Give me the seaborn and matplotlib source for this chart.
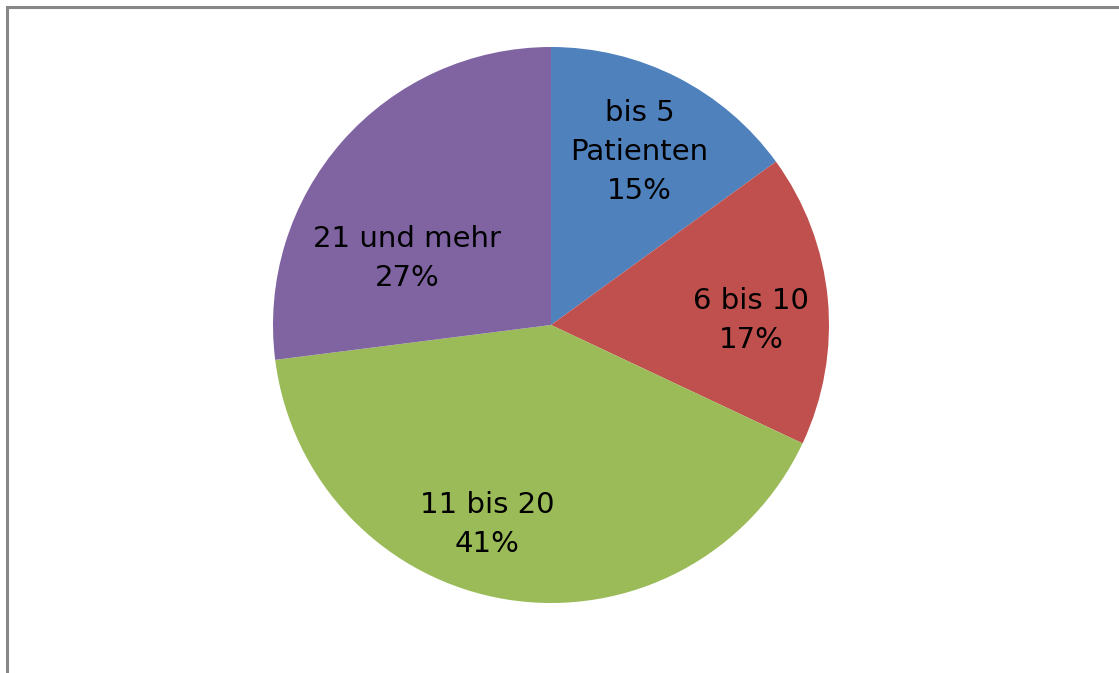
import numpy as np
import matplotlib
matplotlib.use("Agg")
import matplotlib.pyplot as plt
import seaborn as sns
from matplotlib.patches import Rectangle

# Data
categories = ["bis 5\nPatienten", "6 bis 10", "11 bis 20", "21 und mehr"]
shares = [15, 17, 41, 27]
colors = ["#4F81BD", "#C0504D", "#9BBB59", "#8064A2"]

# label placement (fraction of radius, angle nudge in degrees), Excel best-fit look
label_radius = [0.70, 0.72, 0.755, 0.57]
label_nudge = [0, -4, -8.7, 16.4]

sns.set_style("white")
plt.rcParams['font.family'] = ['DejaVu Sans']

W, H = 1119, 673
fig = plt.figure(figsize=(W / 100, H / 100), dpi=100)

# chart border (continues past right/bottom edge)
fig.patches.append(Rectangle((7 / W, -0.05), 1.2, (H - 7) / H + 0.05,
                             transform=fig.transFigure, fill=False,
                             edgecolor="#878787", linewidth=2.2))

cx, cy, r = 551, 325, 278
ax = fig.add_axes([(cx - r) / W, (H - cy - r) / H, 2 * r / W, 2 * r / H])

wedges, _ = ax.pie(shares, colors=sns.color_palette(colors), startangle=90,
                   counterclock=False, radius=1,
                   wedgeprops=dict(linewidth=0))

total = sum(shares)
start = 90.0
for i, (cat, val) in enumerate(zip(categories, shares)):
    sweep = val / total * 360
    mid = np.deg2rad(start - sweep / 2 + label_nudge[i])
    start -= sweep
    ax.text(label_radius[i] * np.cos(mid), label_radius[i] * np.sin(mid),
            f"{cat}\n{val}%", ha="center", va="center", fontsize=21,
            color="black", linespacing=1.5)

ax.set_xlim(-1, 1)
ax.set_ylim(-1, 1)
ax.set_aspect("equal")
ax.axis("off")

fig.savefig("out.png", dpi=100)
